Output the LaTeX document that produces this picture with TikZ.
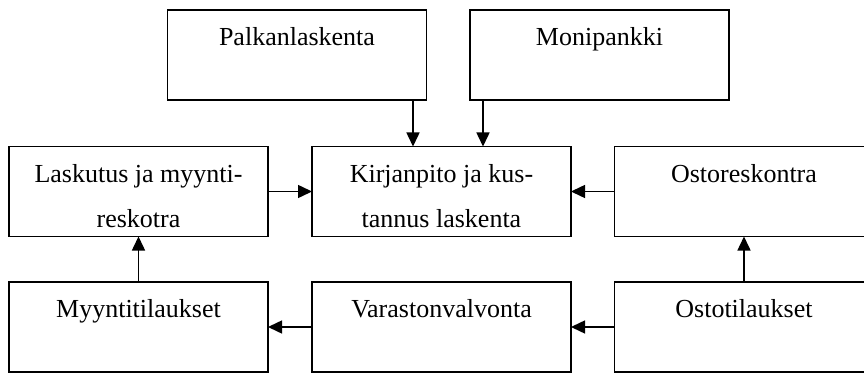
\documentclass[tikz,border=0pt]{standalone}
\usepackage{fontspec}
\setmainfont{Liberation Serif}
\usetikzlibrary{arrows.meta}
\newcommand\boxtxt[1]{\parbox[c][90pt][t]{259pt}{\centering\fontsize{26}{45}\selectfont\rule{0pt}{35.5pt}#1}}
\begin{document}
\begin{tikzpicture}[x=1pt,y=-1pt,
  blk/.style={draw,line width=1.8pt,rectangle,inner sep=0pt,outer sep=0pt},
  arr/.style={line width=1.5pt,-{Triangle[length=14pt,width=13pt]}}]
\clip (0,0) rectangle (864,374);
\fill[white] (0,0) rectangle (864,374);
\node[blk] (P) at (297,55) {\boxtxt{Palkanlaskenta}};
\node[blk] (M) at (599.5,55) {\boxtxt{Monipankki}};
\node[blk] (L) at (138.5,191.5) {\boxtxt{Laskutus ja myynti-\\reskotra}};
\node[blk] (K) at (441.5,191.5) {\boxtxt{Kirjanpito ja kus-\\tannus laskenta}};
\node[blk] (O) at (744,191.5) {\boxtxt{Ostoreskontra}};
\node[blk] (My) at (138.5,327) {\boxtxt{Myyntitilaukset}};
\node[blk] (V) at (441.5,327) {\boxtxt{Varastonvalvonta}};
\node[blk] (Ot) at (744,327) {\boxtxt{Ostotilaukset}};
\draw[arr] ([xshift=-13.5pt]P.south east) -- ([xshift=-13.5pt]P.south east |- K.north);
\draw[arr] ([xshift=13pt]M.south west) -- ([xshift=13pt]M.south west |- K.north);
\draw[arr] (L.east) -- (K.west);
\draw[arr] (O.west) -- (K.east);
\draw[arr] (My.north) -- (L.south);
\draw[arr] (Ot.north) -- (O.south);
\draw[arr] (V.west) -- (My.east);
\draw[arr] (Ot.west) -- (V.east);
\end{tikzpicture}
\end{document}
